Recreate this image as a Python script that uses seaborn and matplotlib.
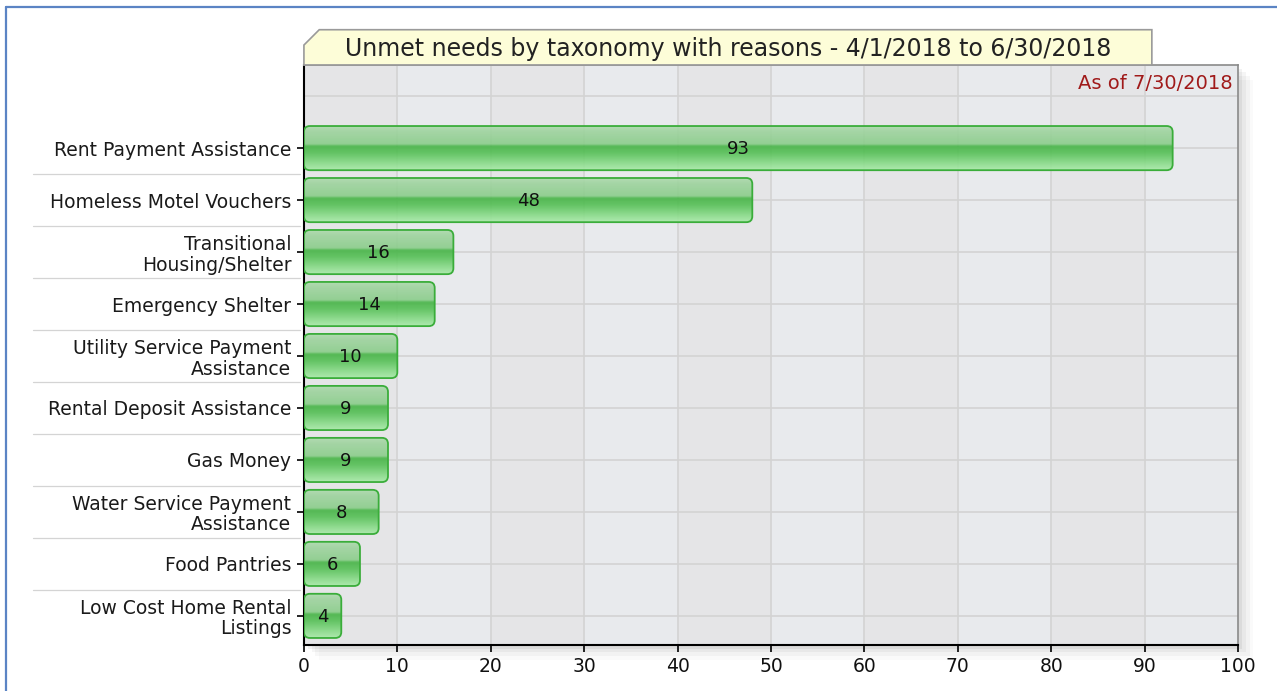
import seaborn as sns
import matplotlib.pyplot as plt
import matplotlib.patches as mpatches
import matplotlib.lines as mlines
from matplotlib.colors import LinearSegmentedColormap
import pandas as pd
import numpy as np

# data
categories = ['Rent Payment Assistance', 'Homeless Motel Vouchers',
              'Transitional\nHousing/Shelter', 'Emergency Shelter',
              'Utility Service Payment\nAssistance', 'Rental Deposit Assistance',
              'Gas Money', 'Water Service Payment\nAssistance', 'Food Pantries',
              'Low Cost Home Rental\nListings']
counts = [93, 48, 16, 14, 10, 9, 9, 8, 6, 4]
x_ticks = [0, 10, 20, 30, 40, 50, 60, 70, 80, 90, 100]
title = 'Unmet needs by taxonomy with reasons - 4/1/2018 to 6/30/2018'
as_of = 'As of 7/30/2018'

df = pd.DataFrame({'need': categories, 'count': counts})

sns.set_style('white')
plt.rcParams['font.family'] = ['DejaVu Sans']

fig = plt.figure(figsize=(12.77, 6.91), dpi=100)
ax = fig.add_axes([0.238, 0.0666, 0.7315, 0.8394])

# drop shadow behind plot area
for i, a in enumerate([0.05, 0.04, 0.03, 0.02]):
    off = (i + 1) * 0.003
    fig.add_artist(mpatches.Rectangle((0.238 + off, 0.0666 - off * 1.8), 0.7315, 0.8394,
                                      transform=fig.transFigure, facecolor='black',
                                      alpha=a, edgecolor='none', zorder=-5))

sns.barplot(data=df, x='count', y='need', orient='h', color='#5cbf5c',
            width=0.85, ax=ax, zorder=3)
bars = list(ax.patches)

ax.set_xlim(0, 100)
ax.set_ylim(len(categories) - 0.44, -1.6)

# alternating background bands
ax.set_facecolor('#e8eaed')
for i, x0 in enumerate(x_ticks[:-1]):
    ax.axvspan(x0, x0 + 10, color='#e5e5e7' if i % 2 == 0 else '#e8eaed', zorder=0, lw=0)
for x in x_ticks[1:-1]:
    ax.axvline(x, color='#d3d3d3', lw=1.2, zorder=1)
for k in range(-1, len(categories)):
    ax.axhline(k, color='#d3d3d3', lw=1.2, zorder=1)

# gradient fill for bars
grad = LinearSegmentedColormap.from_list('g', [
    (0.0, '#b0dcb0'), (0.12, '#9fd49f'), (0.42, '#8acd8a'), (0.47, '#46b446'),
    (0.62, '#55c055'), (0.85, '#88db88'), (1.0, '#a8eaa8')])
img = grad(np.linspace(0, 1, 256))[:, None, :]
x_per_px = 100 / 934.0
y_per_px = 1 / 52.0
for p in bars:
    x0, y0 = p.get_x(), p.get_y()
    w, h = p.get_width(), p.get_height()
    p.set_visible(False)
    rb = mpatches.FancyBboxPatch((x0, y0), w, h,
                                 boxstyle='round,pad=0,rounding_size=%f' % (6 * x_per_px),
                                 mutation_aspect=y_per_px / x_per_px,
                                 facecolor='none', edgecolor='#3aad3a', lw=1.3, zorder=4)
    ax.add_patch(rb)
    im = ax.imshow(img, extent=(x0, x0 + w, y0 + h, y0), aspect='auto',
                   alpha=0.9, zorder=3, interpolation='bilinear')
    im.set_clip_path(rb)
ax.set_aspect('auto')
ax.set_xlim(0, 100)
ax.set_ylim(len(categories) - 0.44, -1.6)

# value labels centred in bars
for i, v in enumerate(counts):
    ax.text(v / 2, i + 0.02, str(v), ha='center', va='center', fontsize=13,
            color='#111111', zorder=6)

ax.set_xticks(x_ticks)
ax.set_xticklabels([str(t) for t in x_ticks], fontsize=13.5, color='#111111')
ax.set_yticks(range(len(categories)))
ax.set_yticklabels(categories, fontsize=13.5, color='#1a1a1a', linespacing=1.1)
ax.set_xlabel('')
ax.set_ylabel('')
ax.tick_params(axis='both', direction='out', length=5, width=1.2, color='black',
               left=True, bottom=True, pad=4)

ax.spines['left'].set_color('black')
ax.spines['bottom'].set_color('black')
ax.spines['left'].set_linewidth(1.5)
ax.spines['bottom'].set_linewidth(1.5)
for s in ['top', 'right']:
    ax.spines[s].set_color('#8a8a8a')
    ax.spines[s].set_linewidth(1.2)
    ax.spines[s].set_visible(True)

# separators between category labels
for k in range(len(categories) - 1):
    ax.add_line(mlines.Line2D([-0.29, -0.004], [k + 0.5, k + 0.5],
                              transform=ax.get_yaxis_transform(), color='#d4d4d4',
                              lw=0.9, clip_on=False))

ax.text(0.994, 0.985, as_of, transform=ax.transAxes, ha='right', va='top',
        fontsize=14, color='#a01a1a', zorder=6)

# title tab with cut corner
bx0, bx1 = 0.238, 0.902
by0, by1 = 0.906, 0.957
cut = 0.012
tab = mpatches.Polygon([(bx0, by0), (bx0, by1 - cut * 1.85), (bx0 + cut, by1),
                        (bx1, by1), (bx1, by0)], closed=True, transform=fig.transFigure,
                       facecolor='#fdfdd8', edgecolor='#9a9a9a', lw=1.2, zorder=2)
fig.add_artist(tab)
fig.text((bx0 + bx1) / 2, (by0 + by1) / 2 - 0.002, title, ha='center', va='center',
         fontsize=17, color='#222222', zorder=3)

# outer blue frame (left and top)
fig.add_artist(mlines.Line2D([0.0045, 0.0045], [0, 0.99], transform=fig.transFigure,
                             color='#5b84c4', lw=1.6))
fig.add_artist(mlines.Line2D([0.0045, 1.0], [0.99, 0.99], transform=fig.transFigure,
                             color='#5b84c4', lw=1.6))

fig.savefig('out.png', dpi=100)
